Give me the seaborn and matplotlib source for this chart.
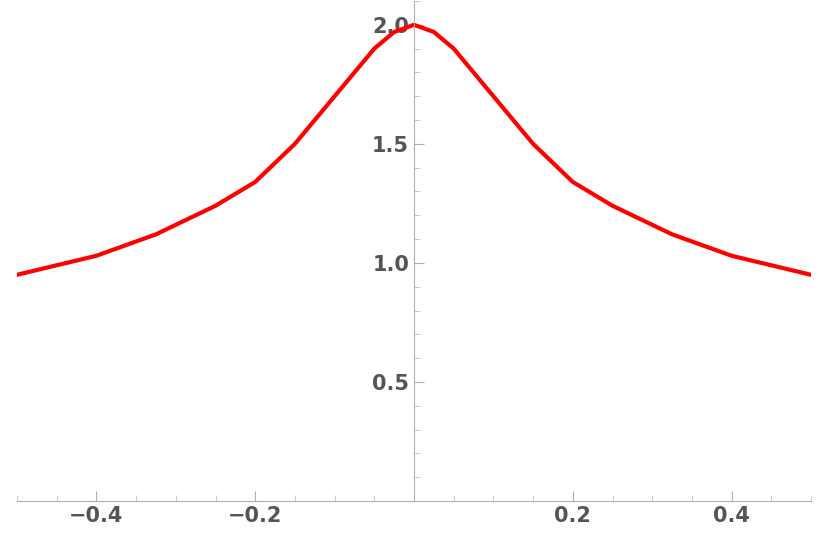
import numpy as np
import pandas as pd
import matplotlib
matplotlib.use("Agg")
import matplotlib.pyplot as plt
import seaborn as sns
from matplotlib.ticker import MultipleLocator

sns.set_style("white")

# values (symmetric around 0)
x_half = [0.0, 0.025, 0.05, 0.075, 0.1, 0.125, 0.15, 0.175, 0.2, 0.225, 0.25,
          0.275, 0.3, 0.325, 0.35, 0.375, 0.4, 0.425, 0.45, 0.475, 0.5]
y_half = [2.00, 1.97, 1.90, 1.80, 1.70, 1.60, 1.50, 1.42, 1.34, 1.29, 1.24,
          1.20, 1.16, 1.12, 1.09, 1.06, 1.03, 1.01, 0.99, 0.97, 0.95]

xs = [-v for v in x_half[:0:-1]] + x_half
ys = y_half[:0:-1] + y_half
df = pd.DataFrame({"x": xs, "y": ys})

fig = plt.figure(figsize=(8.3, 5.48), dpi=100)
ax = fig.add_axes([17/830, 47/548, 794/830, 500/548])
sns.lineplot(data=df, x="x", y="y", color="red", linewidth=3, ax=ax)

ax.set_xlim(-0.5, 0.5)
ax.set_ylim(0, 2.1)
ax.set_xlabel("")
ax.set_ylabel("")
for s in ["top", "right"]:
    ax.spines[s].set_visible(False)
ax.spines["left"].set_position(("data", 0))
ax.spines["bottom"].set_position(("data", 0))
for s in ["left", "bottom"]:
    ax.spines[s].set_color("#b0b0b0")
ax.set_xticks([-0.4, -0.2, 0.2, 0.4])
ax.set_xticklabels(["\u22120.4", "\u22120.2", "0.2", "0.4"])
ax.set_yticks([0.5, 1.0, 1.5, 2.0])
ax.xaxis.set_minor_locator(MultipleLocator(0.05))
ax.yaxis.set_minor_locator(MultipleLocator(0.1))
ax.tick_params(which="major", direction="in", length=7, color="#b0b0b0",
               labelsize=15, labelcolor="#555555", bottom=True, left=True)
ax.tick_params(which="minor", direction="in", length=4, color="#c0c0c0",
               bottom=True, left=True)
for lab in ax.get_xticklabels() + ax.get_yticklabels():
    lab.set_fontweight("bold")

fig.savefig("out.png", dpi=100)
